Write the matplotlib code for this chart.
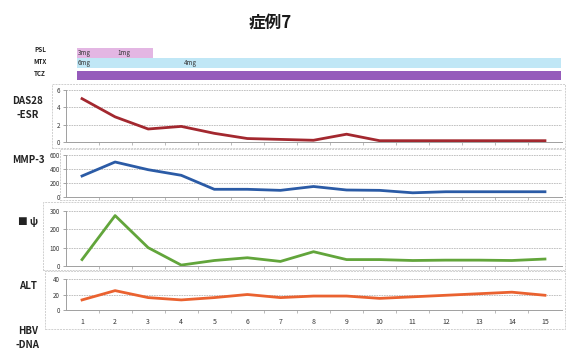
import matplotlib
matplotlib.use("Agg")
import matplotlib.pyplot as plt
from matplotlib.patches import Rectangle

plt.rcParams['font.family'] = ['Noto Sans CJK JP', 'DejaVu Sans']

# ---- data ----
visits = list(range(1, 16))
das28 = [5.0, 2.9, 1.5, 1.8, 1.0, 0.4, 0.3, 0.2, 0.9, 0.15, 0.15, 0.15, 0.15, 0.15, 0.15]
mmp3 = [300, 500, 390, 310, 110, 110, 95, 150, 100, 95, 60, 75, 75, 75, 75]
third = [35, 275, 100, 5, 30, 45, 25, 78, 35, 35, 30, 32, 32, 30, 38]
alt = [13, 25, 16, 13, 16, 20, 16, 18, 18, 15, 17, 19, 21, 23, 19]

panel_labels = ["DAS28\n-ESR", "MMP-3", "■ ψ", "ALT"]
panel_ylims = [(0, 6), (0, 600), (0, 300), (0, 40)]
panel_ticks = [[0, 2, 4, 6], [0, 200, 400, 600], [0, 100, 200, 300], [0, 20, 40]]
panel_colors = ["#A3282F", "#2B5BA6", "#62A53B", "#EA6230"]

drug_labels = ["PSL", "MTX", "TCZ"]
psl_doses = ["3mg", "1mg"]
mtx_doses = ["6mg", "4mg"]

W, H = 569, 360
fig = plt.figure(figsize=(W / 100, H / 100), dpi=100)

def fr(x0, y0, x1, y1):
    return [x0 / W, 1 - y1 / H, (x1 - x0) / W, (y1 - y0) / H]

# panel frames (chart areas)
frames = [(52, 84, 565, 148), (60, 149, 565, 200), (43, 202, 565, 270), (45, 271, 565, 329)]
for (x0, y0, x1, y1) in frames:
    fig.patches.append(Rectangle((x0 / W, 1 - y1 / H), (x1 - x0) / W, (y1 - y0) / H,
                                 transform=fig.transFigure, fill=False,
                                 edgecolor="#D0D0D0", linewidth=0.7, linestyle=(0, (2, 1))))

# plot areas
areas = [(65.5, 90, 561.5, 142), (65.5, 155, 561.5, 197), (65.5, 211, 561.5, 266), (65.5, 279, 561.5, 310)]
series = [das28, mmp3, third, alt]
label_pos = [(28, 108), (28, 160), (28, 222), (28, 286)]

for i, (area, ys) in enumerate(zip(areas, series)):
    ax = fig.add_axes(fr(*area))
    ax.plot(visits, ys, color=panel_colors[i], linewidth=2.0, solid_joinstyle="round")
    ax.set_xlim(0.5, 15.5)
    ax.set_ylim(*panel_ylims[i])
    ax.set_yticks(panel_ticks[i])
    ax.set_yticklabels([str(t) for t in panel_ticks[i]], fontsize=4.5, color="#444444")
    ax.yaxis.grid(True, color="#B8B8B8", linestyle=(0, (2, 1)), linewidth=0.6)
    ax.set_axisbelow(True)
    for s in ["top", "right"]:
        ax.spines[s].set_visible(False)
    ax.spines["left"].set_color("#A0A0A0")
    ax.spines["bottom"].set_color("#A0A0A0")
    ax.spines["left"].set_linewidth(0.7)
    ax.spines["bottom"].set_linewidth(0.7)
    ax.spines["bottom"].set_linestyle((0, (2, 1)))
    ax.tick_params(axis="y", length=2, width=0.5, pad=2, colors="#808080", labelcolor="#333333")
    ax.set_xticks([v + 0.5 for v in visits[:-1]], minor=True)
    ax.set_xticks(visits)
    ax.tick_params(axis="x", which="minor", length=2, width=0.5, colors="#A0A0A0")
    ax.tick_params(axis="x", which="major", length=0)
    if i == 3:
        ax.set_xticklabels([str(v) for v in visits], fontsize=5, color="#333333")
        ax.tick_params(axis="x", which="major", pad=6)
    else:
        ax.set_xticklabels([])
    fig.text(label_pos[i][0] / W, 1 - label_pos[i][1] / H, panel_labels[i],
             fontsize=7, fontweight="bold", ha="center", va="center", color="#222222",
             linespacing=1.6)

# bottom labels
fig.text(28 / W, 1 - 338 / H, "HBV\n-DNA", fontsize=7, fontweight="bold",
         ha="center", va="center", color="#222222", linespacing=1.6)

# title
fig.text(270 / W, 1 - 23 / H, "症例7", fontsize=12, fontweight="bold",
         ha="center", va="center", color="#1a1a1a")

# drug bars
def bar(x0, y0, x1, y1, color):
    fig.patches.append(Rectangle((x0 / W, 1 - y1 / H), (x1 - x0) / W, (y1 - y0) / H,
                                 transform=fig.transFigure, facecolor=color, edgecolor="none"))

bar(77, 48, 153, 57.5, "#E3B6E3")
bar(77, 58, 561, 68, "#C0E7F6")
bar(77, 70.5, 561, 80, "#955BBB")
fig.text(78 / W, 1 - 53 / H, psl_doses[0], fontsize=4.5, ha="left", va="center", color="#333333")
fig.text(117 / W, 1 - 53 / H, psl_doses[1], fontsize=4.5, ha="left", va="center", color="#333333")
fig.text(78 / W, 1 - 63 / H, mtx_doses[0], fontsize=4.5, ha="left", va="center", color="#333333")
fig.text(184 / W, 1 - 63 / H, mtx_doses[1], fontsize=4.5, ha="left", va="center", color="#333333")
for lab, yy in zip(drug_labels, [50, 62, 74]):
    fig.text(40 / W, 1 - yy / H, lab, fontsize=4.5, fontweight="bold",
             ha="center", va="center", color="#222222")

fig.savefig("out.png", dpi=100)
